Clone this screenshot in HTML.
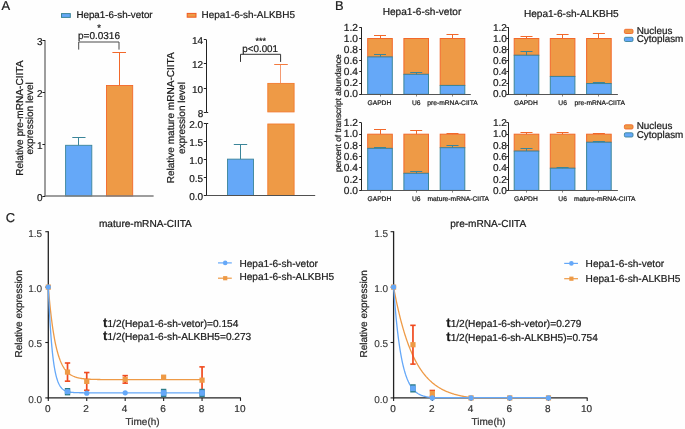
<!DOCTYPE html>
<html><head><meta charset="utf-8"><style>
html,body{margin:0;padding:0;background:#fefefe;}
svg{display:block;font-family:"Liberation Sans", sans-serif;text-rendering:geometricPrecision;}
text{stroke-width:0.22px;}
.wrap{opacity:0.999;will-change:transform;}
</style></head><body>
<div class="wrap"><svg width="685" height="429" viewBox="0 0 685 429">
<rect width="685" height="429" fill="#fefefe"/>
<text x="1.40" y="10.30" font-size="12.9" text-anchor="start" fill="#1a1a1a" stroke="#1a1a1a" >A</text>
<text x="335.10" y="10.30" font-size="12.9" text-anchor="start" fill="#1a1a1a" stroke="#1a1a1a" >B</text>
<text x="5.80" y="222.20" font-size="12.9" text-anchor="start" fill="#1a1a1a" stroke="#1a1a1a" >C</text>
<rect x="61.50" y="13.60" width="8.80" height="3.80" fill="#65a8f8" stroke="#3b8599" stroke-width="1"/>
<text x="76.40" y="17.80" font-size="9.8" text-anchor="start" fill="#1a1a1a" stroke="#1a1a1a" >Hepa1-6-sh-vetor</text>
<rect x="187.20" y="13.40" width="8.80" height="3.80" fill="#ee9a46" stroke="#f05a20" stroke-width="1"/>
<text x="201.60" y="17.80" font-size="9.95" text-anchor="start" fill="#1a1a1a" stroke="#1a1a1a" >Hepa1-6-sh-ALKBH5</text>
<rect x="65.60" y="145.30" width="26.20" height="50.70" fill="#65a8f8" stroke="#3b8599" stroke-width="0.9"/>
<line x1="78.50" y1="145.30" x2="78.50" y2="137.30" stroke="#3b8599" stroke-width="1"/>
<line x1="72.30" y1="137.50" x2="85.50" y2="137.50" stroke="#3b8599" stroke-width="1"/>
<rect x="106.50" y="85.50" width="26.20" height="110.50" fill="#ee9a46" stroke="#f2682a" stroke-width="0.9"/>
<line x1="119.50" y1="85.50" x2="119.50" y2="52.40" stroke="#f2682a" stroke-width="1"/>
<line x1="112.40" y1="52.50" x2="126.00" y2="52.50" stroke="#f2682a" stroke-width="1"/>
<line x1="45.00" y1="40.00" x2="45.00" y2="196.70" stroke="#7c7c7c" stroke-width="1.5"/>
<line x1="44.30" y1="196.00" x2="153.60" y2="196.00" stroke="#7c7c7c" stroke-width="1.5"/>
<line x1="42.40" y1="196.50" x2="45.00" y2="196.50" stroke="#222" stroke-width="1"/>
<text x="42.60" y="200.50" font-size="10" text-anchor="end" fill="#1a1a1a" stroke="#1a1a1a" >0</text>
<line x1="42.40" y1="144.50" x2="45.00" y2="144.50" stroke="#222" stroke-width="1"/>
<text x="42.60" y="148.50" font-size="10" text-anchor="end" fill="#1a1a1a" stroke="#1a1a1a" >1</text>
<line x1="42.40" y1="92.50" x2="45.00" y2="92.50" stroke="#222" stroke-width="1"/>
<text x="42.60" y="96.50" font-size="10" text-anchor="end" fill="#1a1a1a" stroke="#1a1a1a" >2</text>
<line x1="42.40" y1="40.50" x2="45.00" y2="40.50" stroke="#222" stroke-width="1"/>
<text x="42.60" y="44.50" font-size="10" text-anchor="end" fill="#1a1a1a" stroke="#1a1a1a" >3</text>
<path d="M78.7,49.6 V42 H119 V49.6" fill="none" stroke="#4a4a4a" stroke-width="1"/>
<text x="78.00" y="38.90" font-size="10" text-anchor="start" fill="#1a1a1a" stroke="#1a1a1a" >p=0.0316</text>
<text x="99.10" y="31.40" font-size="9.5" text-anchor="middle" fill="#1a1a1a" stroke="#1a1a1a" >*</text>
<text transform="translate(22.8,118.2) rotate(-90)" font-size="10.1" text-anchor="middle" fill="#1a1a1a" stroke="#1a1a1a">Relative pre-mRNA-CIITA</text>
<text transform="translate(33,118.4) rotate(-90)" font-size="10.1" text-anchor="middle" fill="#1a1a1a" stroke="#1a1a1a">expression level</text>
<rect x="227.50" y="159.14" width="26.00" height="36.36" fill="#65a8f8" stroke="#3b8599" stroke-width="0.9"/>
<line x1="240.50" y1="159.14" x2="240.50" y2="144.40" stroke="#3b8599" stroke-width="1"/>
<line x1="233.80" y1="144.50" x2="247.20" y2="144.50" stroke="#3b8599" stroke-width="1"/>
<rect x="267.8" y="124.0" width="26.3" height="71.5" fill="#ee9a46" stroke="#f37a2e" stroke-width="0.9"/>
<rect x="267.8" y="83.4" width="26.3" height="28.5" fill="#ee9a46" stroke="#f37a2e" stroke-width="0.9"/>
<line x1="280.50" y1="83.10" x2="280.50" y2="64.20" stroke="#f49a72" stroke-width="1"/>
<line x1="274.20" y1="64.50" x2="287.80" y2="64.50" stroke="#f37a3e" stroke-width="1"/>
<line x1="206.50" y1="39.70" x2="206.50" y2="112.30" stroke="#222" stroke-width="1"/>
<line x1="206.50" y1="123.50" x2="206.50" y2="196.00" stroke="#222" stroke-width="1"/>
<line x1="205.90" y1="195.50" x2="315.20" y2="195.50" stroke="#505050" stroke-width="1"/>
<line x1="203.80" y1="112.50" x2="206.40" y2="112.50" stroke="#222" stroke-width="1"/>
<text x="203.20" y="116.70" font-size="10" text-anchor="end" fill="#1a1a1a" stroke="#1a1a1a" >8</text>
<line x1="203.80" y1="88.50" x2="206.40" y2="88.50" stroke="#222" stroke-width="1"/>
<text x="203.20" y="92.50" font-size="10" text-anchor="end" fill="#1a1a1a" stroke="#1a1a1a" >10</text>
<line x1="203.80" y1="63.50" x2="206.40" y2="63.50" stroke="#222" stroke-width="1"/>
<text x="203.20" y="68.30" font-size="10" text-anchor="end" fill="#1a1a1a" stroke="#1a1a1a" >12</text>
<line x1="203.80" y1="39.50" x2="206.40" y2="39.50" stroke="#222" stroke-width="1"/>
<text x="203.20" y="44.10" font-size="10" text-anchor="end" fill="#1a1a1a" stroke="#1a1a1a" >14</text>
<line x1="206.40" y1="112.50" x2="208.20" y2="112.50" stroke="#222" stroke-width="1"/>
<line x1="203.80" y1="195.50" x2="206.40" y2="195.50" stroke="#222" stroke-width="1"/>
<text x="203.20" y="199.70" font-size="10" text-anchor="end" fill="#1a1a1a" stroke="#1a1a1a" >0.0</text>
<line x1="203.80" y1="177.50" x2="206.40" y2="177.50" stroke="#222" stroke-width="1"/>
<text x="203.20" y="181.70" font-size="10" text-anchor="end" fill="#1a1a1a" stroke="#1a1a1a" >0.5</text>
<line x1="203.80" y1="159.50" x2="206.40" y2="159.50" stroke="#222" stroke-width="1"/>
<text x="203.20" y="163.70" font-size="10" text-anchor="end" fill="#1a1a1a" stroke="#1a1a1a" >1.0</text>
<line x1="203.80" y1="141.50" x2="206.40" y2="141.50" stroke="#222" stroke-width="1"/>
<text x="203.20" y="145.70" font-size="10" text-anchor="end" fill="#1a1a1a" stroke="#1a1a1a" >1.5</text>
<line x1="203.80" y1="123.50" x2="206.40" y2="123.50" stroke="#222" stroke-width="1"/>
<text x="203.20" y="127.70" font-size="10" text-anchor="end" fill="#1a1a1a" stroke="#1a1a1a" >2.0</text>
<line x1="206.40" y1="123.50" x2="208.20" y2="123.50" stroke="#222" stroke-width="1"/>
<path d="M240.5,61.9 V54.3 H280.6 V61.9" fill="none" stroke="#333" stroke-width="1"/>
<text x="242.30" y="51.70" font-size="9.8" text-anchor="start" fill="#1a1a1a" stroke="#1a1a1a" >p&lt;0.001</text>
<text x="260.70" y="44.30" font-size="9" text-anchor="middle" fill="#1a1a1a" stroke="#1a1a1a" >***</text>
<text transform="translate(174.3,117.85) rotate(-90)" font-size="10.05" text-anchor="middle" fill="#1a1a1a" stroke="#1a1a1a">Relative mature mRNA-CIITA</text>
<text transform="translate(184.6,118.1) rotate(-90)" font-size="10.05" text-anchor="middle" fill="#1a1a1a" stroke="#1a1a1a">expression level</text>
<rect x="367.70" y="38.50" width="24.60" height="18.41" fill="#ee9a46" stroke="#f2682a" stroke-width="1"/>
<rect x="367.70" y="56.91" width="24.60" height="37.39" fill="#65a8f8" stroke="#3b8599" stroke-width="1"/>
<line x1="380.50" y1="38.50" x2="380.50" y2="35.99" stroke="#f2682a" stroke-width="1"/>
<line x1="374.00" y1="35.50" x2="386.00" y2="35.50" stroke="#f2682a" stroke-width="1"/>
<line x1="380.50" y1="56.91" x2="380.50" y2="54.35" stroke="#3b8599" stroke-width="1"/>
<line x1="374.00" y1="54.50" x2="386.00" y2="54.50" stroke="#3b8599" stroke-width="1"/>
<line x1="380.50" y1="94.30" x2="380.50" y2="96.50" stroke="#666" stroke-width="0.8"/>
<text x="379.40" y="104.70" font-size="6.7" text-anchor="middle" fill="#1a1a1a" stroke="#1a1a1a" >GAPDH</text>
<rect x="403.90" y="38.50" width="24.60" height="35.82" fill="#ee9a46" stroke="#f2682a" stroke-width="1"/>
<rect x="403.90" y="74.32" width="24.60" height="19.98" fill="#65a8f8" stroke="#3b8599" stroke-width="1"/>
<line x1="416.50" y1="38.50" x2="416.50" y2="38.22" stroke="#f2682a" stroke-width="1"/>
<line x1="410.20" y1="38.50" x2="422.20" y2="38.50" stroke="#f2682a" stroke-width="1"/>
<line x1="416.50" y1="74.32" x2="416.50" y2="72.54" stroke="#3b8599" stroke-width="1"/>
<line x1="410.20" y1="72.50" x2="422.20" y2="72.50" stroke="#3b8599" stroke-width="1"/>
<line x1="416.50" y1="94.30" x2="416.50" y2="96.50" stroke="#666" stroke-width="0.8"/>
<text x="416.20" y="104.70" font-size="6.7" text-anchor="middle" fill="#1a1a1a" stroke="#1a1a1a" >U6</text>
<rect x="440.20" y="38.50" width="24.60" height="46.93" fill="#ee9a46" stroke="#f2682a" stroke-width="1"/>
<rect x="440.20" y="85.43" width="24.60" height="8.87" fill="#65a8f8" stroke="#3b8599" stroke-width="1"/>
<line x1="452.50" y1="38.50" x2="452.50" y2="34.15" stroke="#f2682a" stroke-width="1"/>
<line x1="446.50" y1="34.50" x2="458.50" y2="34.50" stroke="#f2682a" stroke-width="1"/>
<line x1="452.50" y1="85.43" x2="452.50" y2="85.09" stroke="#3b8599" stroke-width="1"/>
<line x1="446.50" y1="85.50" x2="458.50" y2="85.50" stroke="#3b8599" stroke-width="1"/>
<line x1="452.50" y1="94.30" x2="452.50" y2="96.50" stroke="#666" stroke-width="0.8"/>
<text x="452.50" y="104.70" font-size="6.7" text-anchor="middle" fill="#1a1a1a" stroke="#1a1a1a" >pre-mRNA-CIITA</text>
<line x1="361.50" y1="27.34" x2="361.50" y2="94.80" stroke="#222" stroke-width="1"/>
<line x1="361.10" y1="94.50" x2="470.80" y2="94.50" stroke="#555" stroke-width="1"/>
<line x1="359.20" y1="94.50" x2="361.60" y2="94.50" stroke="#222" stroke-width="1"/>
<text x="357.90" y="97.30" font-size="10.2" text-anchor="end" fill="#1a1a1a" stroke="#1a1a1a" >0.0</text>
<line x1="359.20" y1="83.50" x2="361.60" y2="83.50" stroke="#222" stroke-width="1"/>
<text x="357.90" y="86.28" font-size="10.2" text-anchor="end" fill="#1a1a1a" stroke="#1a1a1a" >0.2</text>
<line x1="359.20" y1="71.50" x2="361.60" y2="71.50" stroke="#222" stroke-width="1"/>
<text x="357.90" y="75.26" font-size="10.2" text-anchor="end" fill="#1a1a1a" stroke="#1a1a1a" >0.4</text>
<line x1="359.20" y1="60.50" x2="361.60" y2="60.50" stroke="#222" stroke-width="1"/>
<text x="357.90" y="64.24" font-size="10.2" text-anchor="end" fill="#1a1a1a" stroke="#1a1a1a" >0.6</text>
<line x1="359.20" y1="49.50" x2="361.60" y2="49.50" stroke="#222" stroke-width="1"/>
<text x="357.90" y="53.22" font-size="10.2" text-anchor="end" fill="#1a1a1a" stroke="#1a1a1a" >0.8</text>
<line x1="359.20" y1="38.50" x2="361.60" y2="38.50" stroke="#222" stroke-width="1"/>
<text x="357.90" y="42.20" font-size="10.2" text-anchor="end" fill="#1a1a1a" stroke="#1a1a1a" >1.0</text>
<line x1="359.20" y1="27.50" x2="361.60" y2="27.50" stroke="#222" stroke-width="1"/>
<text x="357.90" y="31.18" font-size="10.2" text-anchor="end" fill="#1a1a1a" stroke="#1a1a1a" >1.2</text>
<rect x="514.20" y="38.50" width="24.60" height="16.74" fill="#ee9a46" stroke="#f2682a" stroke-width="1"/>
<rect x="514.20" y="55.24" width="24.60" height="39.06" fill="#65a8f8" stroke="#3b8599" stroke-width="1"/>
<line x1="526.50" y1="38.50" x2="526.50" y2="36.27" stroke="#f2682a" stroke-width="1"/>
<line x1="520.50" y1="36.50" x2="532.50" y2="36.50" stroke="#f2682a" stroke-width="1"/>
<line x1="526.50" y1="55.24" x2="526.50" y2="51.50" stroke="#3b8599" stroke-width="1"/>
<line x1="520.50" y1="51.50" x2="532.50" y2="51.50" stroke="#3b8599" stroke-width="1"/>
<line x1="526.50" y1="94.30" x2="526.50" y2="96.50" stroke="#666" stroke-width="0.8"/>
<text x="525.90" y="104.70" font-size="6.7" text-anchor="middle" fill="#1a1a1a" stroke="#1a1a1a" >GAPDH</text>
<rect x="550.30" y="38.50" width="24.60" height="37.94" fill="#ee9a46" stroke="#f2682a" stroke-width="1"/>
<rect x="550.30" y="76.44" width="24.60" height="17.86" fill="#65a8f8" stroke="#3b8599" stroke-width="1"/>
<line x1="562.50" y1="38.50" x2="562.50" y2="34.71" stroke="#f2682a" stroke-width="1"/>
<line x1="556.60" y1="34.50" x2="568.60" y2="34.50" stroke="#f2682a" stroke-width="1"/>
<line x1="562.50" y1="94.30" x2="562.50" y2="96.50" stroke="#666" stroke-width="0.8"/>
<text x="562.60" y="104.70" font-size="6.7" text-anchor="middle" fill="#1a1a1a" stroke="#1a1a1a" >U6</text>
<rect x="586.60" y="38.50" width="24.60" height="45.03" fill="#ee9a46" stroke="#f2682a" stroke-width="1"/>
<rect x="586.60" y="83.53" width="24.60" height="10.77" fill="#65a8f8" stroke="#3b8599" stroke-width="1"/>
<line x1="598.50" y1="38.50" x2="598.50" y2="33.81" stroke="#f2682a" stroke-width="1"/>
<line x1="592.90" y1="33.50" x2="604.90" y2="33.50" stroke="#f2682a" stroke-width="1"/>
<line x1="598.50" y1="83.53" x2="598.50" y2="82.02" stroke="#3b8599" stroke-width="1"/>
<line x1="592.90" y1="82.50" x2="604.90" y2="82.50" stroke="#3b8599" stroke-width="1"/>
<line x1="598.50" y1="94.30" x2="598.50" y2="96.50" stroke="#666" stroke-width="0.8"/>
<text x="599.70" y="104.70" font-size="6.7" text-anchor="middle" fill="#1a1a1a" stroke="#1a1a1a" >pre-mRNA-CIITA</text>
<line x1="508.50" y1="27.34" x2="508.50" y2="94.80" stroke="#222" stroke-width="1"/>
<line x1="508.20" y1="94.50" x2="617.90" y2="94.50" stroke="#555" stroke-width="1"/>
<line x1="506.30" y1="94.50" x2="508.70" y2="94.50" stroke="#222" stroke-width="1"/>
<text x="506.80" y="97.30" font-size="10.0" text-anchor="end" fill="#1a1a1a" stroke="#1a1a1a" >0.0</text>
<line x1="506.30" y1="83.50" x2="508.70" y2="83.50" stroke="#222" stroke-width="1"/>
<text x="506.80" y="86.28" font-size="10.0" text-anchor="end" fill="#1a1a1a" stroke="#1a1a1a" >0.2</text>
<line x1="506.30" y1="71.50" x2="508.70" y2="71.50" stroke="#222" stroke-width="1"/>
<text x="506.80" y="75.26" font-size="10.0" text-anchor="end" fill="#1a1a1a" stroke="#1a1a1a" >0.4</text>
<line x1="506.30" y1="60.50" x2="508.70" y2="60.50" stroke="#222" stroke-width="1"/>
<text x="506.80" y="64.24" font-size="10.0" text-anchor="end" fill="#1a1a1a" stroke="#1a1a1a" >0.6</text>
<line x1="506.30" y1="49.50" x2="508.70" y2="49.50" stroke="#222" stroke-width="1"/>
<text x="506.80" y="53.22" font-size="10.0" text-anchor="end" fill="#1a1a1a" stroke="#1a1a1a" >0.8</text>
<line x1="506.30" y1="38.50" x2="508.70" y2="38.50" stroke="#222" stroke-width="1"/>
<text x="506.80" y="42.20" font-size="10.0" text-anchor="end" fill="#1a1a1a" stroke="#1a1a1a" >1.0</text>
<line x1="506.30" y1="27.50" x2="508.70" y2="27.50" stroke="#222" stroke-width="1"/>
<text x="506.80" y="31.18" font-size="10.0" text-anchor="end" fill="#1a1a1a" stroke="#1a1a1a" >1.2</text>
<rect x="367.70" y="134.20" width="24.60" height="14.16" fill="#ee9a46" stroke="#f2682a" stroke-width="1"/>
<rect x="367.70" y="148.36" width="24.60" height="42.04" fill="#65a8f8" stroke="#3b8599" stroke-width="1"/>
<line x1="380.50" y1="134.20" x2="380.50" y2="129.28" stroke="#f2682a" stroke-width="1"/>
<line x1="374.00" y1="129.50" x2="386.00" y2="129.50" stroke="#f2682a" stroke-width="1"/>
<line x1="380.50" y1="148.36" x2="380.50" y2="147.80" stroke="#3b8599" stroke-width="1"/>
<line x1="374.00" y1="147.50" x2="386.00" y2="147.50" stroke="#3b8599" stroke-width="1"/>
<line x1="380.50" y1="190.40" x2="380.50" y2="192.60" stroke="#666" stroke-width="0.8"/>
<text x="379.40" y="200.80" font-size="6.7" text-anchor="middle" fill="#1a1a1a" stroke="#1a1a1a" >GAPDH</text>
<rect x="403.90" y="134.20" width="24.60" height="39.12" fill="#ee9a46" stroke="#f2682a" stroke-width="1"/>
<rect x="403.90" y="173.32" width="24.60" height="17.08" fill="#65a8f8" stroke="#3b8599" stroke-width="1"/>
<line x1="416.50" y1="134.20" x2="416.50" y2="130.38" stroke="#f2682a" stroke-width="1"/>
<line x1="410.20" y1="130.50" x2="422.20" y2="130.50" stroke="#f2682a" stroke-width="1"/>
<line x1="416.50" y1="173.32" x2="416.50" y2="171.01" stroke="#3b8599" stroke-width="1"/>
<line x1="410.20" y1="171.50" x2="422.20" y2="171.50" stroke="#3b8599" stroke-width="1"/>
<line x1="416.50" y1="190.40" x2="416.50" y2="192.60" stroke="#666" stroke-width="0.8"/>
<text x="416.20" y="200.80" font-size="6.7" text-anchor="middle" fill="#1a1a1a" stroke="#1a1a1a" >U6</text>
<rect x="440.20" y="134.20" width="24.60" height="13.49" fill="#ee9a46" stroke="#f2682a" stroke-width="1"/>
<rect x="440.20" y="147.69" width="24.60" height="42.71" fill="#65a8f8" stroke="#3b8599" stroke-width="1"/>
<line x1="452.50" y1="134.20" x2="452.50" y2="133.30" stroke="#f2682a" stroke-width="1"/>
<line x1="446.50" y1="133.50" x2="458.50" y2="133.50" stroke="#f2682a" stroke-width="1"/>
<line x1="452.50" y1="147.69" x2="452.50" y2="145.16" stroke="#3b8599" stroke-width="1"/>
<line x1="446.50" y1="145.50" x2="458.50" y2="145.50" stroke="#3b8599" stroke-width="1"/>
<line x1="452.50" y1="190.40" x2="452.50" y2="192.60" stroke="#666" stroke-width="0.8"/>
<text x="458.30" y="200.80" font-size="6.7" text-anchor="middle" fill="#1a1a1a" stroke="#1a1a1a" >mature-mRNA-CIITA</text>
<line x1="361.50" y1="122.96" x2="361.50" y2="190.90" stroke="#222" stroke-width="1"/>
<line x1="361.10" y1="190.50" x2="470.80" y2="190.50" stroke="#555" stroke-width="1"/>
<line x1="359.20" y1="190.50" x2="361.60" y2="190.50" stroke="#222" stroke-width="1"/>
<text x="357.90" y="194.20" font-size="10.2" text-anchor="end" fill="#1a1a1a" stroke="#1a1a1a" >0.0</text>
<line x1="359.20" y1="179.50" x2="361.60" y2="179.50" stroke="#222" stroke-width="1"/>
<text x="357.90" y="182.78" font-size="10.2" text-anchor="end" fill="#1a1a1a" stroke="#1a1a1a" >0.2</text>
<line x1="359.20" y1="167.50" x2="361.60" y2="167.50" stroke="#222" stroke-width="1"/>
<text x="357.90" y="171.36" font-size="10.2" text-anchor="end" fill="#1a1a1a" stroke="#1a1a1a" >0.4</text>
<line x1="359.20" y1="156.50" x2="361.60" y2="156.50" stroke="#222" stroke-width="1"/>
<text x="357.90" y="159.94" font-size="10.2" text-anchor="end" fill="#1a1a1a" stroke="#1a1a1a" >0.6</text>
<line x1="359.20" y1="145.50" x2="361.60" y2="145.50" stroke="#222" stroke-width="1"/>
<text x="357.90" y="148.52" font-size="10.2" text-anchor="end" fill="#1a1a1a" stroke="#1a1a1a" >0.8</text>
<line x1="359.20" y1="134.50" x2="361.60" y2="134.50" stroke="#222" stroke-width="1"/>
<text x="357.90" y="137.10" font-size="10.2" text-anchor="end" fill="#1a1a1a" stroke="#1a1a1a" >1.0</text>
<line x1="359.20" y1="122.50" x2="361.60" y2="122.50" stroke="#222" stroke-width="1"/>
<text x="357.90" y="125.68" font-size="10.2" text-anchor="end" fill="#1a1a1a" stroke="#1a1a1a" >1.2</text>
<rect x="514.20" y="134.20" width="24.60" height="16.86" fill="#ee9a46" stroke="#f2682a" stroke-width="1"/>
<rect x="514.20" y="151.06" width="24.60" height="39.34" fill="#65a8f8" stroke="#3b8599" stroke-width="1"/>
<line x1="526.50" y1="134.20" x2="526.50" y2="132.40" stroke="#f2682a" stroke-width="1"/>
<line x1="520.50" y1="132.50" x2="532.50" y2="132.50" stroke="#f2682a" stroke-width="1"/>
<line x1="526.50" y1="151.06" x2="526.50" y2="148.25" stroke="#3b8599" stroke-width="1"/>
<line x1="520.50" y1="148.50" x2="532.50" y2="148.50" stroke="#3b8599" stroke-width="1"/>
<line x1="526.50" y1="190.40" x2="526.50" y2="192.60" stroke="#666" stroke-width="0.8"/>
<text x="525.90" y="200.80" font-size="6.7" text-anchor="middle" fill="#1a1a1a" stroke="#1a1a1a" >GAPDH</text>
<rect x="550.30" y="134.20" width="24.60" height="34.00" fill="#ee9a46" stroke="#f2682a" stroke-width="1"/>
<rect x="550.30" y="168.20" width="24.60" height="22.20" fill="#65a8f8" stroke="#3b8599" stroke-width="1"/>
<line x1="562.50" y1="134.20" x2="562.50" y2="132.23" stroke="#f2682a" stroke-width="1"/>
<line x1="556.60" y1="132.50" x2="568.60" y2="132.50" stroke="#f2682a" stroke-width="1"/>
<line x1="562.50" y1="168.20" x2="562.50" y2="167.64" stroke="#3b8599" stroke-width="1"/>
<line x1="556.60" y1="167.50" x2="568.60" y2="167.50" stroke="#3b8599" stroke-width="1"/>
<line x1="562.50" y1="190.40" x2="562.50" y2="192.60" stroke="#666" stroke-width="0.8"/>
<text x="562.60" y="200.80" font-size="6.7" text-anchor="middle" fill="#1a1a1a" stroke="#1a1a1a" >U6</text>
<rect x="586.60" y="134.20" width="24.60" height="8.04" fill="#ee9a46" stroke="#f2682a" stroke-width="1"/>
<rect x="586.60" y="142.24" width="24.60" height="48.16" fill="#65a8f8" stroke="#3b8599" stroke-width="1"/>
<line x1="598.50" y1="134.20" x2="598.50" y2="133.08" stroke="#f2682a" stroke-width="1"/>
<line x1="592.90" y1="133.50" x2="604.90" y2="133.50" stroke="#f2682a" stroke-width="1"/>
<line x1="598.50" y1="142.24" x2="598.50" y2="141.51" stroke="#3b8599" stroke-width="1"/>
<line x1="592.90" y1="141.50" x2="604.90" y2="141.50" stroke="#3b8599" stroke-width="1"/>
<line x1="598.50" y1="190.40" x2="598.50" y2="192.60" stroke="#666" stroke-width="0.8"/>
<text x="604.70" y="200.80" font-size="6.7" text-anchor="middle" fill="#1a1a1a" stroke="#1a1a1a" >mature-mRNA-CIITA</text>
<line x1="508.50" y1="122.96" x2="508.50" y2="190.90" stroke="#222" stroke-width="1"/>
<line x1="508.20" y1="190.50" x2="617.90" y2="190.50" stroke="#555" stroke-width="1"/>
<line x1="506.30" y1="190.50" x2="508.70" y2="190.50" stroke="#222" stroke-width="1"/>
<text x="506.80" y="194.20" font-size="10.0" text-anchor="end" fill="#1a1a1a" stroke="#1a1a1a" >0.0</text>
<line x1="506.30" y1="179.50" x2="508.70" y2="179.50" stroke="#222" stroke-width="1"/>
<text x="506.80" y="182.78" font-size="10.0" text-anchor="end" fill="#1a1a1a" stroke="#1a1a1a" >0.2</text>
<line x1="506.30" y1="167.50" x2="508.70" y2="167.50" stroke="#222" stroke-width="1"/>
<text x="506.80" y="171.36" font-size="10.0" text-anchor="end" fill="#1a1a1a" stroke="#1a1a1a" >0.4</text>
<line x1="506.30" y1="156.50" x2="508.70" y2="156.50" stroke="#222" stroke-width="1"/>
<text x="506.80" y="159.94" font-size="10.0" text-anchor="end" fill="#1a1a1a" stroke="#1a1a1a" >0.6</text>
<line x1="506.30" y1="145.50" x2="508.70" y2="145.50" stroke="#222" stroke-width="1"/>
<text x="506.80" y="148.52" font-size="10.0" text-anchor="end" fill="#1a1a1a" stroke="#1a1a1a" >0.8</text>
<line x1="506.30" y1="134.50" x2="508.70" y2="134.50" stroke="#222" stroke-width="1"/>
<text x="506.80" y="137.10" font-size="10.0" text-anchor="end" fill="#1a1a1a" stroke="#1a1a1a" >1.0</text>
<line x1="506.30" y1="122.50" x2="508.70" y2="122.50" stroke="#222" stroke-width="1"/>
<text x="506.80" y="125.68" font-size="10.0" text-anchor="end" fill="#1a1a1a" stroke="#1a1a1a" >1.2</text>
<text x="422.00" y="15.20" font-size="10.1" text-anchor="middle" fill="#1a1a1a" stroke="#1a1a1a" >Hepa1-6-sh-vetor</text>
<text x="571.30" y="16.70" font-size="10.1" text-anchor="middle" fill="#1a1a1a" stroke="#1a1a1a" >Hepa1-6-sh-ALKBH5</text>
<text transform="translate(341.3,113.2) rotate(-90)" font-size="8.4" text-anchor="middle" fill="#1a1a1a" stroke="#1a1a1a">percent of transcript abundance</text>
<rect x="624.4" y="29.3" width="8.6" height="4.2" rx="1.2" fill="#ee9a46" stroke="#f2682a" stroke-width="0.9"/>
<rect x="624.4" y="37.3" width="8.6" height="4.2" rx="1.2" fill="#65a8f8" stroke="#3b8599" stroke-width="0.9"/>
<text x="636.70" y="33.90" font-size="9.9" text-anchor="start" fill="#1a1a1a" stroke="#1a1a1a" >Nucleus</text>
<text x="636.70" y="42.00" font-size="9.9" text-anchor="start" fill="#1a1a1a" stroke="#1a1a1a" >Cytoplasm</text>
<rect x="624.4" y="124.8" width="8.6" height="4.2" rx="1.2" fill="#ee9a46" stroke="#f2682a" stroke-width="0.9"/>
<rect x="624.4" y="132.8" width="8.6" height="4.2" rx="1.2" fill="#65a8f8" stroke="#3b8599" stroke-width="0.9"/>
<text x="636.70" y="129.40" font-size="9.9" text-anchor="start" fill="#1a1a1a" stroke="#1a1a1a" >Nucleus</text>
<text x="636.70" y="137.50" font-size="9.9" text-anchor="start" fill="#1a1a1a" stroke="#1a1a1a" >Cytoplasm</text>
<line x1="48.30" y1="231.20" x2="48.30" y2="398.50" stroke="#222" stroke-width="1.3"/>
<line x1="47.70" y1="397.90" x2="240.90" y2="397.90" stroke="#222" stroke-width="1.3"/>
<line x1="45.30" y1="397.90" x2="48.30" y2="397.90" stroke="#222" stroke-width="1.1"/>
<text x="42.10" y="402.80" font-size="10" text-anchor="end" fill="#333" stroke="#333" style="stroke-width:0.1px">0.0</text>
<line x1="45.30" y1="342.50" x2="48.30" y2="342.50" stroke="#222" stroke-width="1.1"/>
<text x="42.10" y="347.40" font-size="10" text-anchor="end" fill="#333" stroke="#333" style="stroke-width:0.1px">0.5</text>
<line x1="45.30" y1="287.10" x2="48.30" y2="287.10" stroke="#222" stroke-width="1.1"/>
<text x="42.10" y="292.00" font-size="10" text-anchor="end" fill="#333" stroke="#333" style="stroke-width:0.1px">1.0</text>
<line x1="45.30" y1="231.70" x2="48.30" y2="231.70" stroke="#222" stroke-width="1.1"/>
<text x="42.10" y="236.60" font-size="10" text-anchor="end" fill="#333" stroke="#333" style="stroke-width:0.1px">1.5</text>
<line x1="48.30" y1="397.90" x2="48.30" y2="400.90" stroke="#222" stroke-width="1.1"/>
<text x="47.70" y="412.10" font-size="10" text-anchor="middle" fill="#333" stroke="#333" >0</text>
<line x1="86.74" y1="397.90" x2="86.74" y2="400.90" stroke="#222" stroke-width="1.1"/>
<text x="86.14" y="412.10" font-size="10" text-anchor="middle" fill="#333" stroke="#333" >2</text>
<line x1="125.18" y1="397.90" x2="125.18" y2="400.90" stroke="#222" stroke-width="1.1"/>
<text x="124.58" y="412.10" font-size="10" text-anchor="middle" fill="#333" stroke="#333" >4</text>
<line x1="163.62" y1="397.90" x2="163.62" y2="400.90" stroke="#222" stroke-width="1.1"/>
<text x="163.02" y="412.10" font-size="10" text-anchor="middle" fill="#333" stroke="#333" >6</text>
<line x1="202.06" y1="397.90" x2="202.06" y2="400.90" stroke="#222" stroke-width="1.1"/>
<text x="201.46" y="412.10" font-size="10" text-anchor="middle" fill="#333" stroke="#333" >8</text>
<line x1="240.50" y1="397.90" x2="240.50" y2="400.90" stroke="#222" stroke-width="1.1"/>
<text x="239.90" y="412.10" font-size="10" text-anchor="middle" fill="#333" stroke="#333" >10</text>
<text x="142.60" y="424.80" font-size="10" text-anchor="middle" fill="#333" stroke="#333" >Time(h)</text>
<text x="145.40" y="227.40" font-size="10.1" text-anchor="middle" fill="#1a1a1a" stroke="#1a1a1a" >mature-mRNA-CIITA</text>
<text transform="translate(22.00,313.9) rotate(-90)" font-size="10" text-anchor="middle" fill="#1a1a1a" stroke="#1a1a1a">Relative expression</text>
<polyline points="48.30,287.10 48.81,293.16 49.33,298.82 49.84,304.11 50.35,309.06 50.86,313.68 51.38,318.00 51.89,322.03 52.40,325.80 52.91,329.33 53.43,332.62 53.94,335.70 54.45,338.58 54.96,341.26 55.48,343.78 55.99,346.12 56.50,348.32 57.01,350.37 57.53,352.28 58.04,354.07 58.55,355.75 59.06,357.31 59.58,358.77 60.09,360.14 60.60,361.41 61.11,362.60 61.63,363.72 62.14,364.76 62.65,365.73 63.16,366.64 63.68,367.49 64.19,368.29 64.70,369.03 65.21,369.72 65.73,370.37 66.24,370.98 66.75,371.54 67.26,372.07 67.78,372.56 68.29,373.03 68.80,373.46 69.31,373.86 69.83,374.24 70.34,374.59 70.85,374.92 71.36,375.23 71.88,375.52 72.39,375.78 72.90,376.03 73.41,376.27 73.93,376.49 74.44,376.69 74.95,376.89 75.46,377.06 75.98,377.23 76.49,377.39 77.00,377.53 77.51,377.67 78.03,377.80 78.54,377.92 79.05,378.03 79.56,378.13 80.08,378.23 80.59,378.32 81.10,378.41 81.61,378.49 82.13,378.56 82.64,378.63 83.15,378.69 83.66,378.75 84.18,378.81 84.69,378.86 85.20,378.91 85.71,378.96 86.23,379.00 86.74,379.04 87.25,379.08 87.77,379.12 88.28,379.15 88.79,379.18 89.30,379.21 89.82,379.23 90.33,379.26 90.84,379.28 91.35,379.31 91.87,379.33 92.38,379.34 92.89,379.36 93.40,379.38 93.92,379.40 94.43,379.41 94.94,379.42 95.45,379.44 95.97,379.45 96.48,379.46 96.99,379.47 97.50,379.48 98.02,379.49 98.53,379.50 99.04,379.50 99.55,379.51 100.07,379.52 100.58,379.53 101.09,379.53 101.60,379.54 102.12,379.54 102.63,379.55 103.14,379.55 103.65,379.56 104.17,379.56 104.68,379.56 105.19,379.57 105.70,379.57 106.22,379.57 106.73,379.58 107.24,379.58 107.75,379.58 108.27,379.58 108.78,379.59 109.29,379.59 109.80,379.59 110.32,379.59 110.83,379.59 111.34,379.60 111.85,379.60 112.37,379.60 112.88,379.60 113.39,379.60 113.90,379.60 114.42,379.60 114.93,379.60 115.44,379.61 115.95,379.61 116.47,379.61 116.98,379.61 117.49,379.61 118.00,379.61 118.52,379.61 119.03,379.61 119.54,379.61 120.05,379.61 120.57,379.61 121.08,379.61 121.59,379.61 122.10,379.61 122.62,379.61 123.13,379.61 123.64,379.61 124.15,379.61 124.67,379.61 125.18,379.61 125.69,379.61 126.21,379.61 126.72,379.62 127.23,379.62 127.74,379.62 128.26,379.62 128.77,379.62 129.28,379.62 129.79,379.62 130.31,379.62 130.82,379.62 131.33,379.62 131.84,379.62 132.36,379.62 132.87,379.62 133.38,379.62 133.89,379.62 134.41,379.62 134.92,379.62 135.43,379.62 135.94,379.62 136.46,379.62 136.97,379.62 137.48,379.62 137.99,379.62 138.51,379.62 139.02,379.62 139.53,379.62 140.04,379.62 140.56,379.62 141.07,379.62 141.58,379.62 142.09,379.62 142.61,379.62 143.12,379.62 143.63,379.62 144.14,379.62 144.66,379.62 145.17,379.62 145.68,379.62 146.19,379.62 146.71,379.62 147.22,379.62 147.73,379.62 148.24,379.62 148.76,379.62 149.27,379.62 149.78,379.62 150.29,379.62 150.81,379.62 151.32,379.62 151.83,379.62 152.34,379.62 152.86,379.62 153.37,379.62 153.88,379.62 154.39,379.62 154.91,379.62 155.42,379.62 155.93,379.62 156.44,379.62 156.96,379.62 157.47,379.62 157.98,379.62 158.49,379.62 159.01,379.62 159.52,379.62 160.03,379.62 160.54,379.62 161.06,379.62 161.57,379.62 162.08,379.62 162.59,379.62 163.11,379.62 163.62,379.62 164.13,379.62 164.65,379.62 165.16,379.62 165.67,379.62 166.18,379.62 166.70,379.62 167.21,379.62 167.72,379.62 168.23,379.62 168.75,379.62 169.26,379.62 169.77,379.62 170.28,379.62 170.80,379.62 171.31,379.62 171.82,379.62 172.33,379.62 172.85,379.62 173.36,379.62 173.87,379.62 174.38,379.62 174.90,379.62 175.41,379.62 175.92,379.62 176.43,379.62 176.95,379.62 177.46,379.62 177.97,379.62 178.48,379.62 179.00,379.62 179.51,379.62 180.02,379.62 180.53,379.62 181.05,379.62 181.56,379.62 182.07,379.62 182.58,379.62 183.10,379.62 183.61,379.62 184.12,379.62 184.63,379.62 185.15,379.62 185.66,379.62 186.17,379.62 186.68,379.62 187.20,379.62 187.71,379.62 188.22,379.62 188.73,379.62 189.25,379.62 189.76,379.62 190.27,379.62 190.78,379.62 191.30,379.62 191.81,379.62 192.32,379.62 192.83,379.62 193.35,379.62 193.86,379.62 194.37,379.62 194.88,379.62 195.40,379.62 195.91,379.62 196.42,379.62 196.93,379.62 197.45,379.62 197.96,379.62 198.47,379.62 198.98,379.62 199.50,379.62 200.01,379.62 200.52,379.62 201.03,379.62 201.55,379.62 202.06,379.62" fill="none" stroke="#ee9a46" stroke-width="1.3"/>
<polyline points="48.30,287.10 48.81,299.05 49.33,309.65 49.84,319.06 50.35,327.40 50.86,334.79 51.38,341.35 51.89,347.17 52.40,352.33 52.91,356.91 53.43,360.97 53.94,364.57 54.45,367.76 54.96,370.59 55.48,373.10 55.99,375.33 56.50,377.31 57.01,379.06 57.53,380.61 58.04,381.99 58.55,383.21 59.06,384.30 59.58,385.26 60.09,386.11 60.60,386.87 61.11,387.54 61.63,388.14 62.14,388.66 62.65,389.13 63.16,389.55 63.68,389.91 64.19,390.24 64.70,390.53 65.21,390.79 65.73,391.02 66.24,391.22 66.75,391.40 67.26,391.56 67.78,391.70 68.29,391.82 68.80,391.93 69.31,392.03 69.83,392.12 70.34,392.20 70.85,392.26 71.36,392.33 71.88,392.38 72.39,392.43 72.90,392.47 73.41,392.51 73.93,392.54 74.44,392.57 74.95,392.60 75.46,392.62 75.98,392.64 76.49,392.66 77.00,392.68 77.51,392.69 78.03,392.70 78.54,392.71 79.05,392.72 79.56,392.73 80.08,392.74 80.59,392.75 81.10,392.75 81.61,392.76 82.13,392.76 82.64,392.77 83.15,392.77 83.66,392.78 84.18,392.78 84.69,392.78 85.20,392.78 85.71,392.79 86.23,392.79 86.74,392.79 87.25,392.79 87.77,392.79 88.28,392.79 88.79,392.80 89.30,392.80 89.82,392.80 90.33,392.80 90.84,392.80 91.35,392.80 91.87,392.80 92.38,392.80 92.89,392.80 93.40,392.80 93.92,392.80 94.43,392.80 94.94,392.80 95.45,392.80 95.97,392.80 96.48,392.80 96.99,392.80 97.50,392.80 98.02,392.80 98.53,392.80 99.04,392.80 99.55,392.80 100.07,392.80 100.58,392.80 101.09,392.80 101.60,392.80 102.12,392.80 102.63,392.80 103.14,392.80 103.65,392.80 104.17,392.80 104.68,392.80 105.19,392.80 105.70,392.80 106.22,392.80 106.73,392.80 107.24,392.80 107.75,392.80 108.27,392.80 108.78,392.80 109.29,392.80 109.80,392.80 110.32,392.80 110.83,392.80 111.34,392.80 111.85,392.80 112.37,392.80 112.88,392.80 113.39,392.80 113.90,392.80 114.42,392.80 114.93,392.80 115.44,392.80 115.95,392.80 116.47,392.80 116.98,392.80 117.49,392.80 118.00,392.80 118.52,392.80 119.03,392.80 119.54,392.80 120.05,392.80 120.57,392.80 121.08,392.80 121.59,392.80 122.10,392.80 122.62,392.80 123.13,392.80 123.64,392.80 124.15,392.80 124.67,392.80 125.18,392.80 125.69,392.80 126.21,392.80 126.72,392.80 127.23,392.80 127.74,392.80 128.26,392.80 128.77,392.80 129.28,392.80 129.79,392.80 130.31,392.80 130.82,392.80 131.33,392.80 131.84,392.80 132.36,392.80 132.87,392.80 133.38,392.80 133.89,392.80 134.41,392.80 134.92,392.80 135.43,392.80 135.94,392.80 136.46,392.80 136.97,392.80 137.48,392.80 137.99,392.80 138.51,392.80 139.02,392.80 139.53,392.80 140.04,392.80 140.56,392.80 141.07,392.80 141.58,392.80 142.09,392.80 142.61,392.80 143.12,392.80 143.63,392.80 144.14,392.80 144.66,392.80 145.17,392.80 145.68,392.80 146.19,392.80 146.71,392.80 147.22,392.80 147.73,392.80 148.24,392.80 148.76,392.80 149.27,392.80 149.78,392.80 150.29,392.80 150.81,392.80 151.32,392.80 151.83,392.80 152.34,392.80 152.86,392.80 153.37,392.80 153.88,392.80 154.39,392.80 154.91,392.80 155.42,392.80 155.93,392.80 156.44,392.80 156.96,392.80 157.47,392.80 157.98,392.80 158.49,392.80 159.01,392.80 159.52,392.80 160.03,392.80 160.54,392.80 161.06,392.80 161.57,392.80 162.08,392.80 162.59,392.80 163.11,392.80 163.62,392.80 164.13,392.80 164.65,392.80 165.16,392.80 165.67,392.80 166.18,392.80 166.70,392.80 167.21,392.80 167.72,392.80 168.23,392.80 168.75,392.80 169.26,392.80 169.77,392.80 170.28,392.80 170.80,392.80 171.31,392.80 171.82,392.80 172.33,392.80 172.85,392.80 173.36,392.80 173.87,392.80 174.38,392.80 174.90,392.80 175.41,392.80 175.92,392.80 176.43,392.80 176.95,392.80 177.46,392.80 177.97,392.80 178.48,392.80 179.00,392.80 179.51,392.80 180.02,392.80 180.53,392.80 181.05,392.80 181.56,392.80 182.07,392.80 182.58,392.80 183.10,392.80 183.61,392.80 184.12,392.80 184.63,392.80 185.15,392.80 185.66,392.80 186.17,392.80 186.68,392.80 187.20,392.80 187.71,392.80 188.22,392.80 188.73,392.80 189.25,392.80 189.76,392.80 190.27,392.80 190.78,392.80 191.30,392.80 191.81,392.80 192.32,392.80 192.83,392.80 193.35,392.80 193.86,392.80 194.37,392.80 194.88,392.80 195.40,392.80 195.91,392.80 196.42,392.80 196.93,392.80 197.45,392.80 197.96,392.80 198.47,392.80 198.98,392.80 199.50,392.80 200.01,392.80 200.52,392.80 201.03,392.80 201.55,392.80 202.06,392.80" fill="none" stroke="#65a8f8" stroke-width="1.3"/>
<rect x="45.70" y="284.50" width="5.20" height="5.20" fill="#ee9a46"/>
<line x1="67.52" y1="363.00" x2="67.52" y2="381.17" stroke="#f04a1e" stroke-width="1.7"/>
<line x1="64.82" y1="363.00" x2="70.22" y2="363.00" stroke="#f04a1e" stroke-width="1.6"/>
<line x1="64.82" y1="381.17" x2="70.22" y2="381.17" stroke="#f04a1e" stroke-width="1.6"/>
<rect x="64.92" y="369.48" width="5.20" height="5.20" fill="#ee9a46"/>
<line x1="86.74" y1="372.53" x2="86.74" y2="390.25" stroke="#f04a1e" stroke-width="1.7"/>
<line x1="84.04" y1="372.53" x2="89.44" y2="372.53" stroke="#f04a1e" stroke-width="1.6"/>
<line x1="84.04" y1="390.25" x2="89.44" y2="390.25" stroke="#f04a1e" stroke-width="1.6"/>
<rect x="84.14" y="378.79" width="5.20" height="5.20" fill="#ee9a46"/>
<line x1="125.18" y1="375.63" x2="125.18" y2="383.16" stroke="#f04a1e" stroke-width="1.7"/>
<line x1="122.48" y1="375.63" x2="127.88" y2="375.63" stroke="#f04a1e" stroke-width="1.6"/>
<line x1="122.48" y1="383.16" x2="127.88" y2="383.16" stroke="#f04a1e" stroke-width="1.6"/>
<rect x="122.58" y="376.80" width="5.20" height="5.20" fill="#ee9a46"/>
<rect x="161.02" y="374.58" width="5.20" height="5.20" fill="#ee9a46"/>
<line x1="202.06" y1="366.88" x2="202.06" y2="393.47" stroke="#f04a1e" stroke-width="1.7"/>
<line x1="199.36" y1="366.88" x2="204.76" y2="366.88" stroke="#f04a1e" stroke-width="1.6"/>
<line x1="199.36" y1="393.47" x2="204.76" y2="393.47" stroke="#f04a1e" stroke-width="1.6"/>
<rect x="199.46" y="377.57" width="5.20" height="5.20" fill="#ee9a46"/>
<circle cx="48.30" cy="287.10" r="2.6" fill="#65a8f8"/>
<rect x="64.82" y="388.00" width="5.4" height="7.38" fill="#2e7d8a"/>
<rect x="64.82" y="389.40" width="5.4" height="4.58" fill="#65a8f8"/>
<circle cx="67.52" cy="391.70" r="2.6" fill="#65a8f8"/>
<circle cx="86.74" cy="393.14" r="2.6" fill="#65a8f8"/>
<circle cx="125.18" cy="392.80" r="2.6" fill="#65a8f8"/>
<rect x="160.92" y="388.78" width="5.4" height="8.27" fill="#2e7d8a"/>
<rect x="160.92" y="390.18" width="5.4" height="5.47" fill="#65a8f8"/>
<circle cx="163.62" cy="392.91" r="2.6" fill="#65a8f8"/>
<rect x="199.36" y="388.78" width="5.4" height="8.27" fill="#2e7d8a"/>
<rect x="199.36" y="390.18" width="5.4" height="5.47" fill="#65a8f8"/>
<circle cx="202.06" cy="392.91" r="2.6" fill="#65a8f8"/>
<text x="103.10" y="326.7" font-size="10.15" fill="#1a1a1a" stroke="#1a1a1a"><tspan font-size="13" font-weight="bold">t</tspan>1/2(Hepa1-6-sh-vetor)=0.154</text>
<text x="103.10" y="339.9" font-size="10.15" fill="#1a1a1a" stroke="#1a1a1a"><tspan font-size="13" font-weight="bold">t</tspan>1/2(Hepa1-6-sh-ALKBH5=0.273</text>
<line x1="218.00" y1="262.90" x2="231.80" y2="262.90" stroke="#65a8f8" stroke-width="1.2"/>
<circle cx="225.20" cy="262.9" r="2.3" fill="#65a8f8"/>
<text x="239.40" y="266.50" font-size="10.1" text-anchor="start" fill="#222" stroke="#222" >Hepa1-6-sh-vetor</text>
<line x1="218.00" y1="278.20" x2="231.80" y2="278.20" stroke="#ee9a46" stroke-width="1.2"/>
<rect x="223.10" y="276.10" width="4.20" height="4.20" fill="#ee9a46"/>
<text x="239.40" y="280.10" font-size="10.1" text-anchor="start" fill="#222" stroke="#222" >Hepa1-6-sh-ALKBH5</text>
<line x1="393.60" y1="231.20" x2="393.60" y2="398.50" stroke="#222" stroke-width="1.3"/>
<line x1="393.00" y1="397.90" x2="587.60" y2="397.90" stroke="#222" stroke-width="1.3"/>
<line x1="390.60" y1="397.90" x2="393.60" y2="397.90" stroke="#222" stroke-width="1.1"/>
<text x="388.10" y="402.80" font-size="10" text-anchor="end" fill="#333" stroke="#333" style="stroke-width:0.1px">0.0</text>
<line x1="390.60" y1="342.50" x2="393.60" y2="342.50" stroke="#222" stroke-width="1.1"/>
<text x="388.10" y="347.40" font-size="10" text-anchor="end" fill="#333" stroke="#333" style="stroke-width:0.1px">0.5</text>
<line x1="390.60" y1="287.10" x2="393.60" y2="287.10" stroke="#222" stroke-width="1.1"/>
<text x="388.10" y="292.00" font-size="10" text-anchor="end" fill="#333" stroke="#333" style="stroke-width:0.1px">1.0</text>
<line x1="390.60" y1="231.70" x2="393.60" y2="231.70" stroke="#222" stroke-width="1.1"/>
<text x="388.10" y="236.60" font-size="10" text-anchor="end" fill="#333" stroke="#333" style="stroke-width:0.1px">1.5</text>
<line x1="393.60" y1="397.90" x2="393.60" y2="400.90" stroke="#222" stroke-width="1.1"/>
<text x="393.00" y="412.10" font-size="10" text-anchor="middle" fill="#333" stroke="#333" >0</text>
<line x1="432.32" y1="397.90" x2="432.32" y2="400.90" stroke="#222" stroke-width="1.1"/>
<text x="431.72" y="412.10" font-size="10" text-anchor="middle" fill="#333" stroke="#333" >2</text>
<line x1="471.04" y1="397.90" x2="471.04" y2="400.90" stroke="#222" stroke-width="1.1"/>
<text x="470.44" y="412.10" font-size="10" text-anchor="middle" fill="#333" stroke="#333" >4</text>
<line x1="509.76" y1="397.90" x2="509.76" y2="400.90" stroke="#222" stroke-width="1.1"/>
<text x="509.16" y="412.10" font-size="10" text-anchor="middle" fill="#333" stroke="#333" >6</text>
<line x1="548.48" y1="397.90" x2="548.48" y2="400.90" stroke="#222" stroke-width="1.1"/>
<text x="547.88" y="412.10" font-size="10" text-anchor="middle" fill="#333" stroke="#333" >8</text>
<line x1="587.20" y1="397.90" x2="587.20" y2="400.90" stroke="#222" stroke-width="1.1"/>
<text x="586.60" y="412.10" font-size="10" text-anchor="middle" fill="#333" stroke="#333" >10</text>
<text x="488.60" y="424.80" font-size="10" text-anchor="middle" fill="#333" stroke="#333" >Time(h)</text>
<text x="488.20" y="227.40" font-size="10.1" text-anchor="middle" fill="#1a1a1a" stroke="#1a1a1a" >pre-mRNA-CIITA</text>
<text transform="translate(367.30,313.9) rotate(-90)" font-size="10" text-anchor="middle" fill="#1a1a1a" stroke="#1a1a1a">Relative expression</text>
<polyline points="393.60,287.10 394.12,289.87 394.63,292.58 395.15,295.22 395.67,297.79 396.18,300.31 396.70,302.76 397.21,305.15 397.73,307.48 398.25,309.75 398.76,311.97 399.28,314.14 399.80,316.25 400.31,318.31 400.83,320.32 401.34,322.28 401.86,324.19 402.38,326.05 402.89,327.87 403.41,329.65 403.93,331.38 404.44,333.07 404.96,334.72 405.47,336.32 405.99,337.89 406.51,339.42 407.02,340.91 407.54,342.37 408.06,343.79 408.57,345.17 409.09,346.53 409.60,347.84 410.12,349.13 410.64,350.38 411.15,351.61 411.67,352.80 412.19,353.97 412.70,355.10 413.22,356.21 413.73,357.29 414.25,358.35 414.77,359.37 415.28,360.38 415.80,361.36 416.32,362.31 416.83,363.24 417.35,364.15 417.86,365.04 418.38,365.90 418.90,366.75 419.41,367.57 419.93,368.37 420.45,369.15 420.96,369.92 421.48,370.66 421.99,371.39 422.51,372.10 423.03,372.79 423.54,373.47 424.06,374.12 424.58,374.77 425.09,375.39 425.61,376.00 426.12,376.60 426.64,377.18 427.16,377.75 427.67,378.30 428.19,378.84 428.71,379.37 429.22,379.88 429.74,380.38 430.25,380.87 430.77,381.35 431.29,381.81 431.80,382.27 432.32,382.71 432.84,383.14 433.35,383.56 433.87,383.97 434.39,384.37 434.90,384.77 435.42,385.15 435.93,385.52 436.45,385.88 436.97,386.24 437.48,386.58 438.00,386.92 438.52,387.25 439.03,387.57 439.55,387.88 440.06,388.19 440.58,388.48 441.10,388.77 441.61,389.06 442.13,389.33 442.65,389.60 443.16,389.87 443.68,390.12 444.19,390.37 444.71,390.62 445.23,390.85 445.74,391.09 446.26,391.31 446.78,391.53 447.29,391.75 447.81,391.96 448.32,392.17 448.84,392.37 449.36,392.56 449.87,392.75 450.39,392.94 450.91,393.12 451.42,393.30 451.94,393.47 452.45,393.64 452.97,393.80 453.49,393.96 454.00,394.12 454.52,394.27 455.04,394.42 455.55,394.56 456.07,394.70 456.58,394.84 457.10,394.98 457.62,395.11 458.13,395.24 458.65,395.36 459.17,395.48 459.68,395.60 460.20,395.72 460.71,395.83 461.23,395.94 461.75,396.05 462.26,396.15 462.78,396.26 463.30,396.36 463.81,396.45 464.33,396.55 464.84,396.64 465.36,396.73 465.88,396.82 466.39,396.91 466.91,396.99 467.43,397.07 467.94,397.15 468.46,397.23 468.97,397.31 469.49,397.38 470.01,397.45 470.52,397.52 471.04,397.59 471.56,397.60 472.07,397.60 472.59,397.60 473.11,397.60 473.62,397.60 474.14,397.60 474.65,397.60 475.17,397.60 475.69,397.60 476.20,397.60 476.72,397.60 477.24,397.60 477.75,397.60 478.27,397.60 478.78,397.60 479.30,397.60 479.82,397.60 480.33,397.60 480.85,397.60 481.37,397.60 481.88,397.60 482.40,397.60 482.91,397.60 483.43,397.60 483.95,397.60 484.46,397.60 484.98,397.60 485.50,397.60 486.01,397.60 486.53,397.60 487.04,397.60 487.56,397.60 488.08,397.60 488.59,397.60 489.11,397.60 489.63,397.60 490.14,397.60 490.66,397.60 491.17,397.60 491.69,397.60 492.21,397.60 492.72,397.60 493.24,397.60 493.76,397.60 494.27,397.60 494.79,397.60 495.30,397.60 495.82,397.60 496.34,397.60 496.85,397.60 497.37,397.60 497.89,397.60 498.40,397.60 498.92,397.60 499.43,397.60 499.95,397.60 500.47,397.60 500.98,397.60 501.50,397.60 502.02,397.60 502.53,397.60 503.05,397.60 503.56,397.60 504.08,397.60 504.60,397.60 505.11,397.60 505.63,397.60 506.15,397.60 506.66,397.60 507.18,397.60 507.69,397.60 508.21,397.60 508.73,397.60 509.24,397.60 509.76,397.60 510.28,397.60 510.79,397.60 511.31,397.60 511.83,397.60 512.34,397.60 512.86,397.60 513.37,397.60 513.89,397.60 514.41,397.60 514.92,397.60 515.44,397.60 515.96,397.60 516.47,397.60 516.99,397.60 517.50,397.60 518.02,397.60 518.54,397.60 519.05,397.60 519.57,397.60 520.09,397.60 520.60,397.60 521.12,397.60 521.63,397.60 522.15,397.60 522.67,397.60 523.18,397.60 523.70,397.60 524.22,397.60 524.73,397.60 525.25,397.60 525.76,397.60 526.28,397.60 526.80,397.60 527.31,397.60 527.83,397.60 528.35,397.60 528.86,397.60 529.38,397.60 529.89,397.60 530.41,397.60 530.93,397.60 531.44,397.60 531.96,397.60 532.48,397.60 532.99,397.60 533.51,397.60 534.02,397.60 534.54,397.60 535.06,397.60 535.57,397.60 536.09,397.60 536.61,397.60 537.12,397.60 537.64,397.60 538.15,397.60 538.67,397.60 539.19,397.60 539.70,397.60 540.22,397.60 540.74,397.60 541.25,397.60 541.77,397.60 542.28,397.60 542.80,397.60 543.32,397.60 543.83,397.60 544.35,397.60 544.87,397.60 545.38,397.60 545.90,397.60 546.41,397.60 546.93,397.60 547.45,397.60 547.96,397.60 548.48,397.60" fill="none" stroke="#ee9a46" stroke-width="1.3"/>
<polyline points="393.60,287.10 394.12,294.23 394.63,300.90 395.15,307.14 395.67,312.98 396.18,318.45 396.70,323.57 397.21,328.36 397.73,332.85 398.25,337.05 398.76,340.98 399.28,344.66 399.80,348.10 400.31,351.32 400.83,354.34 401.34,357.16 401.86,359.80 402.38,362.28 402.89,364.59 403.41,366.76 403.93,368.79 404.44,370.69 404.96,372.46 405.47,374.13 405.99,375.68 406.51,377.14 407.02,378.50 407.54,379.78 408.06,380.98 408.57,382.09 409.09,383.14 409.60,384.12 410.12,385.04 410.64,385.90 411.15,386.70 411.67,387.45 412.19,388.16 412.70,388.82 413.22,389.43 413.73,390.01 414.25,390.55 414.77,391.06 415.28,391.53 415.80,391.97 416.32,392.39 416.83,392.78 417.35,393.14 417.86,393.48 418.38,393.80 418.90,394.10 419.41,394.37 419.93,394.64 420.45,394.88 420.96,395.11 421.48,395.32 421.99,395.52 422.51,395.71 423.03,395.89 423.54,396.05 424.06,396.20 424.58,396.35 425.09,396.48 425.61,396.61 426.12,396.73 426.64,396.84 427.16,396.94 427.67,397.04 428.19,397.13 428.71,397.21 429.22,397.29 429.74,397.37 430.25,397.44 430.77,397.50 431.29,397.56 431.80,397.60 432.32,397.60 432.84,397.60 433.35,397.60 433.87,397.60 434.39,397.60 434.90,397.60 435.42,397.60 435.93,397.60 436.45,397.60 436.97,397.60 437.48,397.60 438.00,397.60 438.52,397.60 439.03,397.60 439.55,397.60 440.06,397.60 440.58,397.60 441.10,397.60 441.61,397.60 442.13,397.60 442.65,397.60 443.16,397.60 443.68,397.60 444.19,397.60 444.71,397.60 445.23,397.60 445.74,397.60 446.26,397.60 446.78,397.60 447.29,397.60 447.81,397.60 448.32,397.60 448.84,397.60 449.36,397.60 449.87,397.60 450.39,397.60 450.91,397.60 451.42,397.60 451.94,397.60 452.45,397.60 452.97,397.60 453.49,397.60 454.00,397.60 454.52,397.60 455.04,397.60 455.55,397.60 456.07,397.60 456.58,397.60 457.10,397.60 457.62,397.60 458.13,397.60 458.65,397.60 459.17,397.60 459.68,397.60 460.20,397.60 460.71,397.60 461.23,397.60 461.75,397.60 462.26,397.60 462.78,397.60 463.30,397.60 463.81,397.60 464.33,397.60 464.84,397.60 465.36,397.60 465.88,397.60 466.39,397.60 466.91,397.60 467.43,397.60 467.94,397.60 468.46,397.60 468.97,397.60 469.49,397.60 470.01,397.60 470.52,397.60 471.04,397.60 471.56,397.60 472.07,397.60 472.59,397.60 473.11,397.60 473.62,397.60 474.14,397.60 474.65,397.60 475.17,397.60 475.69,397.60 476.20,397.60 476.72,397.60 477.24,397.60 477.75,397.60 478.27,397.60 478.78,397.60 479.30,397.60 479.82,397.60 480.33,397.60 480.85,397.60 481.37,397.60 481.88,397.60 482.40,397.60 482.91,397.60 483.43,397.60 483.95,397.60 484.46,397.60 484.98,397.60 485.50,397.60 486.01,397.60 486.53,397.60 487.04,397.60 487.56,397.60 488.08,397.60 488.59,397.60 489.11,397.60 489.63,397.60 490.14,397.60 490.66,397.60 491.17,397.60 491.69,397.60 492.21,397.60 492.72,397.60 493.24,397.60 493.76,397.60 494.27,397.60 494.79,397.60 495.30,397.60 495.82,397.60 496.34,397.60 496.85,397.60 497.37,397.60 497.89,397.60 498.40,397.60 498.92,397.60 499.43,397.60 499.95,397.60 500.47,397.60 500.98,397.60 501.50,397.60 502.02,397.60 502.53,397.60 503.05,397.60 503.56,397.60 504.08,397.60 504.60,397.60 505.11,397.60 505.63,397.60 506.15,397.60 506.66,397.60 507.18,397.60 507.69,397.60 508.21,397.60 508.73,397.60 509.24,397.60 509.76,397.60 510.28,397.60 510.79,397.60 511.31,397.60 511.83,397.60 512.34,397.60 512.86,397.60 513.37,397.60 513.89,397.60 514.41,397.60 514.92,397.60 515.44,397.60 515.96,397.60 516.47,397.60 516.99,397.60 517.50,397.60 518.02,397.60 518.54,397.60 519.05,397.60 519.57,397.60 520.09,397.60 520.60,397.60 521.12,397.60 521.63,397.60 522.15,397.60 522.67,397.60 523.18,397.60 523.70,397.60 524.22,397.60 524.73,397.60 525.25,397.60 525.76,397.60 526.28,397.60 526.80,397.60 527.31,397.60 527.83,397.60 528.35,397.60 528.86,397.60 529.38,397.60 529.89,397.60 530.41,397.60 530.93,397.60 531.44,397.60 531.96,397.60 532.48,397.60 532.99,397.60 533.51,397.60 534.02,397.60 534.54,397.60 535.06,397.60 535.57,397.60 536.09,397.60 536.61,397.60 537.12,397.60 537.64,397.60 538.15,397.60 538.67,397.60 539.19,397.60 539.70,397.60 540.22,397.60 540.74,397.60 541.25,397.60 541.77,397.60 542.28,397.60 542.80,397.60 543.32,397.60 543.83,397.60 544.35,397.60 544.87,397.60 545.38,397.60 545.90,397.60 546.41,397.60 546.93,397.60 547.45,397.60 547.96,397.60 548.48,397.60" fill="none" stroke="#65a8f8" stroke-width="1.3"/>
<rect x="391.00" y="284.50" width="5.20" height="5.20" fill="#ee9a46"/>
<line x1="412.96" y1="325.33" x2="412.96" y2="364.11" stroke="#f04a1e" stroke-width="1.7"/>
<line x1="410.26" y1="325.33" x2="415.66" y2="325.33" stroke="#f04a1e" stroke-width="1.6"/>
<line x1="410.26" y1="364.11" x2="415.66" y2="364.11" stroke="#f04a1e" stroke-width="1.6"/>
<rect x="410.36" y="342.12" width="5.20" height="5.20" fill="#ee9a46"/>
<line x1="432.32" y1="390.48" x2="432.32" y2="396.46" stroke="#f04a1e" stroke-width="1.7"/>
<line x1="429.62" y1="390.48" x2="435.02" y2="390.48" stroke="#f04a1e" stroke-width="1.6"/>
<line x1="429.62" y1="396.46" x2="435.02" y2="396.46" stroke="#f04a1e" stroke-width="1.6"/>
<rect x="429.72" y="390.87" width="5.20" height="5.20" fill="#ee9a46"/>
<rect x="468.44" y="395.30" width="5.20" height="5.20" fill="#ee9a46"/>
<rect x="507.16" y="395.30" width="5.20" height="5.20" fill="#ee9a46"/>
<rect x="545.88" y="395.30" width="5.20" height="5.20" fill="#ee9a46"/>
<circle cx="393.60" cy="287.10" r="2.6" fill="#65a8f8"/>
<rect x="410.26" y="384.24" width="5.4" height="8.27" fill="#2e7d8a"/>
<rect x="410.26" y="385.64" width="5.4" height="5.47" fill="#65a8f8"/>
<circle cx="412.96" cy="388.37" r="2.6" fill="#65a8f8"/>
<circle cx="432.32" cy="397.90" r="2.6" fill="#65a8f8"/>
<circle cx="471.04" cy="397.90" r="2.6" fill="#65a8f8"/>
<circle cx="509.76" cy="397.90" r="2.6" fill="#65a8f8"/>
<circle cx="548.48" cy="397.90" r="2.6" fill="#65a8f8"/>
<text x="446.30" y="326.7" font-size="10.15" fill="#1a1a1a" stroke="#1a1a1a"><tspan font-size="13" font-weight="bold">t</tspan>1/2(Hepa1-6-sh-vetor)=0.279</text>
<text x="446.30" y="341.3" font-size="10.15" fill="#1a1a1a" stroke="#1a1a1a"><tspan font-size="13" font-weight="bold">t</tspan>1/2(Hepa1-6-sh-ALKBH5)=0.754</text>
<line x1="564.20" y1="263.40" x2="578.00" y2="263.40" stroke="#65a8f8" stroke-width="1.2"/>
<circle cx="571.40" cy="263.4" r="2.3" fill="#65a8f8"/>
<text x="585.60" y="267.00" font-size="10.1" text-anchor="start" fill="#222" stroke="#222" >Hepa1-6-sh-vetor</text>
<line x1="564.20" y1="278.70" x2="578.00" y2="278.70" stroke="#ee9a46" stroke-width="1.2"/>
<rect x="569.30" y="276.60" width="4.20" height="4.20" fill="#ee9a46"/>
<text x="585.60" y="281.50" font-size="10.1" text-anchor="start" fill="#222" stroke="#222" >Hepa1-6-sh-ALKBH5</text>
</svg></div>
</body></html>
